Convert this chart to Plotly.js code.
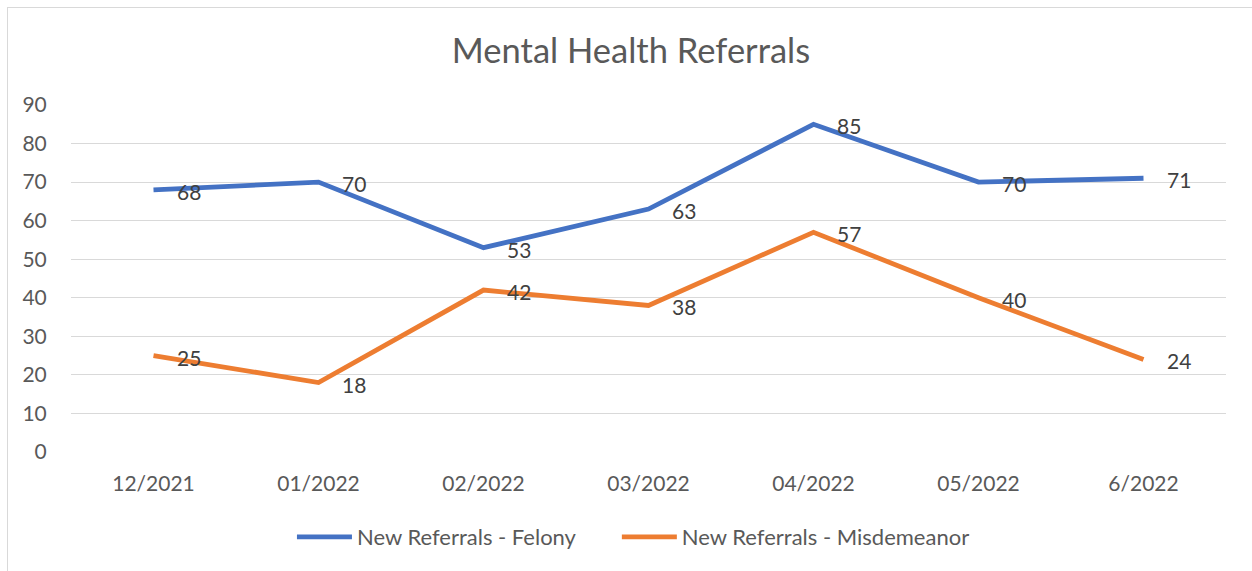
<!DOCTYPE html>
<html>
<head>
<meta charset="utf-8">
<script src="https://cdn.plot.ly/plotly-3.0.1.min.js"></script>
<style>
  html, body { margin: 0; padding: 0; background: #ffffff; overflow: hidden; }
  #chart { position: absolute; left: 0; top: 0; width: 1252px; height: 571px; }
  #frame { position: absolute; left: 7px; top: 7px; width: 1300px; height: 700px;
           border: 1px solid #d9d9d9; pointer-events: none; }
</style>
</head>
<body>
<div id="chart"></div>
<div id="frame"></div>
<script>
const categories = ["12/2021", "01/2022", "02/2022", "03/2022", "04/2022", "05/2022", "6/2022"];
const felony = [68, 70, 53, 63, 85, 70, 71];
const misdemeanor = [25, 18, 42, 38, 57, 40, 24];
const seriesNames = ["New Referrals - Felony", "New Referrals - Misdemeanor"];
const yTicks = [0, 10, 20, 30, 40, 50, 60, 70, 80, 90];

const FONT = "Lato, 'Open Sans', sans-serif";
const colors = ["#4472C4", "#ED7D31"];
const legendIds = ["legend", "legend2"];

const traces = [felony, misdemeanor].map((vals, i) => ({
  type: "scatter",
  mode: "lines",
  x: categories,
  y: vals,
  name: seriesNames[i],
  legend: legendIds[i],
  line: { color: colors[i], width: 4.8, shape: "linear" },
  hoverinfo: "x+y+name"
}));

const annotations = [];
[felony, misdemeanor].forEach(vals => {
  vals.forEach((v, j) => {
    annotations.push({
      x: categories[j], y: v, xref: "x", yref: "y",
      text: String(v), showarrow: false,
      xanchor: "left", yanchor: "middle",
      xshift: 21, yshift: -1.5,
      font: { family: FONT, size: 21, color: "#404040" }
    });
  });
});

const legendBase = {
  orientation: "h",
  yanchor: "middle",
  y: -0.245,
  xanchor: "left",
  font: { family: FONT, size: 22, color: "#595959" },
  itemwidth: 55,
  itemclick: false, itemdoubleclick: false,
  bgcolor: "rgba(0,0,0,0)"
};

const layout = {
  width: 1252, height: 571,
  paper_bgcolor: "rgba(0,0,0,0)",
  plot_bgcolor: "rgba(0,0,0,0)",
  margin: { l: 71, r: 26, t: 105, b: 119, pad: 0 },
  title: {
    text: "Mental Health Referrals",
    font: { family: FONT, size: 34.5, color: "#595959" },
    x: 0.504, xanchor: "center",
    y: 0.911, yanchor: "middle"
  },
  xaxis: {
    type: "category",
    categoryorder: "array",
    categoryarray: categories,
    range: [-0.5, 6.5],
    showgrid: false, zeroline: false, showline: false,
    ticks: "outside", ticklen: 13, tickcolor: "rgba(0,0,0,0)",
    tickfont: { family: FONT, size: 21, color: "#595959" },
    fixedrange: true
  },
  yaxis: {
    range: [0, 90],
    tickvals: yTicks,
    ticktext: yTicks.map(String),
    showgrid: true, gridcolor: "#d9d9d9", gridwidth: 1.3,
    zeroline: false, showline: false,
    ticks: "outside", ticklen: 19, tickcolor: "rgba(0,0,0,0)",
    tickfont: { family: FONT, size: 21, color: "#595959" },
    fixedrange: true
  },
  showlegend: true,
  legend: Object.assign({}, legendBase, { x: 0.1913 }),
  legend2: Object.assign({}, legendBase, { x: 0.4726 }),
  annotations: annotations,
  hovermode: "closest"
};

Plotly.newPlot("chart", traces, layout, { displayModeBar: false, staticPlot: false, responsive: false });
</script>
</body>
</html>
